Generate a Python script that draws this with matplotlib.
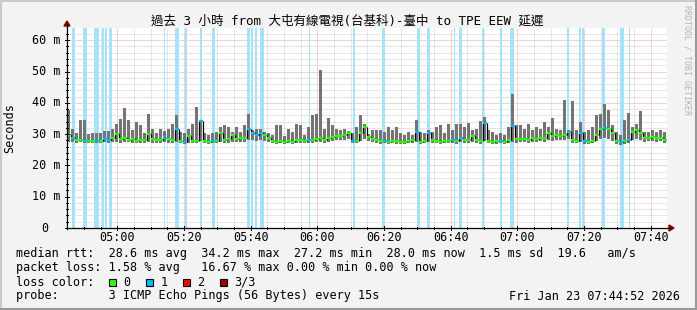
import matplotlib
matplotlib.use("Agg")
import matplotlib.pyplot as plt
from matplotlib.lines import Line2D
from matplotlib.patches import Polygon, Rectangle
from datetime import datetime, timedelta

W, H = 697, 310

# start of the 3 hour window, each sample is 72 s (1.2 min)
start = datetime(2026, 1, 23, 4, 44, 52)
step_min = 1.2

median_ms = [29.8, 28.6, 28.0, 28.2, 27.8, 27.9, 27.7, 27.8, 27.8, 28.4, 28.0, 28.6, 30.0, 28.4, 28.9, 28.1, 28.3, 27.9, 28.2, 28.0, 30.0, 28.5, 28.1, 28.0, 28.6,
             28.3, 28.0, 31.5, 27.7, 27.6, 29.5, 27.8, 27.9, 34.2, 27.7, 27.6, 27.8, 27.9, 30.2, 28.1, 28.3, 29.8, 28.4, 28.6, 28.9, 31.5, 30.2, 29.8, 30.4, 29.6,
             28.7, 27.8, 27.6, 27.9, 27.5, 27.7, 27.6, 28.0, 28.2, 27.8, 28.1, 28.0, 28.4, 28.6, 28.2, 28.8, 29.0, 29.4, 29.3, 29.8, 30.3, 27.9, 27.8, 30.5, 32.2,
             29.0, 28.3, 28.0, 27.7, 27.8, 27.5, 27.9, 27.7, 27.6, 27.5, 27.8, 28.1, 30.8, 27.6, 27.8, 30.3, 28.0, 27.8, 27.6, 27.9, 27.8, 28.0, 27.7, 28.8, 28.2,
             28.0, 29.5, 28.1, 27.8, 33.5, 27.8, 27.6, 27.7, 27.9, 27.5, 28.0, 32.5, 28.3, 28.5, 28.4, 28.2, 28.6, 28.4, 28.8, 28.7, 30.5, 29.3, 29.6, 29.4, 29.8,
             30.8, 28.0, 27.8, 30.5, 27.8, 27.6, 27.9, 29.8, 31.5, 32.0, 31.6, 30.2, 27.7, 27.5, 27.8, 28.2, 30.8, 31.2, 30.5, 28.8, 28.9, 29.0, 28.7, 28.9, 28.0]

min_ms = [27.6, 27.5, 27.3, 27.4, 27.2, 27.1, 27.0, 27.1, 27.2, 27.4, 27.3, 27.5, 27.6, 27.3, 27.5, 27.4, 27.2, 27.1, 27.3, 27.2, 27.4, 27.3, 27.2, 27.1, 27.4,
          27.3, 27.2, 27.6, 27.0, 26.9, 27.3, 27.1, 27.2, 27.8, 27.0, 26.9, 27.0, 27.1, 27.5, 27.2, 27.3, 27.6, 27.4, 27.5, 27.6, 28.2, 28.0, 27.9, 28.1, 27.8,
          27.5, 27.1, 26.9, 27.1, 26.8, 27.0, 26.9, 27.2, 27.3, 27.0, 27.2, 27.1, 27.4, 27.5, 27.3, 27.6, 27.8, 28.0, 28.0, 28.2, 28.4, 27.1, 27.0, 27.8, 28.5,
          27.8, 27.4, 27.2, 26.9, 27.0, 26.8, 27.1, 26.9, 26.8, 26.7, 27.0, 27.2, 27.6, 26.8, 27.0, 27.5, 27.1, 27.0, 26.8, 27.1, 27.0, 27.2, 26.9, 27.5, 27.3,
          27.1, 27.4, 27.2, 26.9, 27.7, 27.0, 26.8, 26.9, 27.1, 26.7, 27.1, 27.5, 27.3, 27.5, 27.4, 27.2, 27.6, 27.4, 27.7, 27.6, 28.0, 27.9, 28.1, 28.0, 28.2,
          28.3, 27.2, 27.0, 27.5, 26.9, 26.8, 27.1, 27.8, 28.5, 28.7, 28.4, 27.9, 26.8, 26.6, 26.9, 27.2, 28.0, 28.4, 28.1, 27.6, 27.7, 27.8, 27.5, 27.7, 27.2]

max_ms = [37.6, 31.5, 30.5, 34.4, 34.5, 30.0, 30.2, 30.3, 30.5, 31.0, 31.0, 31.7, 33.3, 34.7, 38.3, 34.4, 31.3, 33.9, 32.8, 30.5, 36.5, 31.7, 30.5, 31.7, 31.0,
          31.5, 33.3, 36.0, 30.8, 30.3, 31.7, 33.3, 38.5, 34.6, 30.3, 29.6, 30.3, 30.8, 32.3, 32.8, 32.3, 30.8, 32.3, 30.8, 32.8, 36.5, 31.3, 31.7, 31.7, 30.8,
          30.3, 29.8, 33.0, 32.8, 29.3, 31.7, 30.8, 33.3, 32.8, 29.8, 32.3, 36.0, 36.5, 50.5, 31.7, 35.0, 32.8, 31.7, 31.3, 31.7, 31.0, 30.3, 32.3, 36.0, 33.3,
          29.9, 31.3, 31.3, 31.3, 30.8, 32.3, 31.3, 32.3, 30.3, 29.6, 30.8, 29.8, 34.4, 30.8, 30.3, 31.3, 30.8, 32.3, 32.8, 30.3, 33.3, 31.3, 33.3, 33.3, 32.3,
          33.5, 31.3, 31.7, 34.1, 35.5, 31.3, 30.6, 29.8, 30.3, 29.6, 32.3, 42.8, 32.8, 32.8, 31.7, 33.3, 31.3, 32.3, 31.7, 33.9, 32.3, 35.0, 31.7, 31.3, 40.8,
          31.3, 40.7, 31.3, 33.9, 30.8, 31.3, 32.3, 36.0, 36.5, 39.5, 37.7, 32.8, 30.6, 29.8, 34.4, 36.7, 32.3, 33.3, 37.3, 30.8, 30.6, 31.3, 30.8, 31.3, 30.8]

# periods with 1/3 loss, minutes from start
loss_start = [1.5, 4.8, 8.1, 10.5, 11.4, 12.6, 29.1, 32.4, 35.4, 39.9, 43.5, 54.0, 55.2, 56.4, 57.9, 72.6,
              85.8, 94.5, 105.0, 108.0, 116.1, 117.6, 124.5, 129.9, 132.9, 150.0, 153.6, 154.5, 160.5, 165.9, 168.6]
loss_end = [2.4, 6.0, 9.6, 11.1, 12.0, 13.5, 29.4, 33.6, 36.0, 40.5, 44.4, 54.9, 55.8, 57.0, 59.1, 72.9,
            86.4, 95.4, 105.9, 108.9, 116.4, 118.5, 125.1, 130.5, 134.1, 150.6, 154.2, 155.1, 161.4, 167.1, 168.9]

ytick_vals = [0, 10, 20, 30, 40, 50, 60]
ytick_text = ["0", "10 m", "20 m", "30 m", "40 m", "50 m", "60 m"]

title = "過去 3 小時 from 大屯有線電視(台基科)-臺中 to TPE EEW 延遲"
line1 = "median rtt:  28.6 ms avg  34.2 ms max  27.2 ms min  28.0 ms now  1.5 ms sd  19.6   am/s"
line2 = "packet loss: 1.58 % avg   16.67 % max 0.00 % min 0.00 % now"
line4 = "probe:       3 ICMP Echo Pings (56 Bytes) every 15s"
stamp = "Fri Jan 23 07:44:52 2026"
legend_names = ["0", "1", "2", "3/3"]
legend_cols = ["#26ff00", "#00b8ff", "#ff0000", "#a00000"]

MONO = ["DejaVu Sans Mono", "Noto Sans CJK TC"]
FS = 8.5

fig = plt.figure(figsize=(W / 100, H / 100), dpi=100, facecolor="#f3f3f3")
ax = fig.add_axes([67 / W, 1 - 228 / H, 600 / W, 200 / H])
ax.set_facecolor("white")
ax.set_xlim(0, 180)
ax.set_ylim(0, 63.9)
for s in ax.spines.values():
    s.set_visible(False)
ax.set_xticks([])
ax.set_yticks([])


def fx(x):
    return x / W


def fy(y):
    return 1 - y / H


def minutes_of(dt):
    return (dt - start).total_seconds() / 60.0


# grid
dotted = (0, (1, 1))
t = datetime(2026, 1, 23, 4, 45)
vticks = []
while t <= start + timedelta(hours=3):
    m = minutes_of(t)
    major = t.minute % 20 == 0
    ax.axvline(m, color="#f2a4a4" if major else "#cfcfcf", lw=0.72, ls=dotted, zorder=1)
    vticks.append((m, major, t))
    t += timedelta(minutes=5)
for v in range(2, 64, 2):
    major = v % 10 == 0
    ax.axhline(v, color="#f2a4a4" if major else "#cfcfcf", lw=0.72, ls=dotted, zorder=1)

# loss background
for a, b in zip(loss_start, loss_end):
    ax.axvspan(a, b, color="#a6e2f9", lw=0, zorder=2)

# smoke
xs = [i * step_min for i in range(len(median_ms))]
ax.bar(xs, [hi - lo for hi, lo in zip(max_ms, min_ms)], bottom=min_ms, width=step_min * 0.75,
       align="edge", color="#747474", lw=0, zorder=3)

# median coloured by loss
lossy = set()
for a, b in zip(loss_start, loss_end):
    lossy.add(int(((a + b) / 2) // step_min))
for i, m in enumerate(median_ms):
    if i > 0:
        ax.plot([xs[i], xs[i]], [median_ms[i - 1], m], color="black", lw=0.9, zorder=4,
                solid_capstyle="butt")
    ax.plot([xs[i], xs[i] + step_min], [m, m], color=legend_cols[1] if i in lossy else legend_cols[0],
            lw=1.6, zorder=5, solid_capstyle="butt")

# axes lines and arrows
fig.add_artist(Line2D([fx(67), fx(67)], [fy(228.5), fy(24)], color="black", lw=0.9))
fig.add_artist(Line2D([fx(66.5), fx(670)], [fy(228), fy(228)], color="black", lw=0.9))
fig.add_artist(Polygon([[fx(64), fy(26)], [fx(70), fy(26)], [fx(67), fy(21)]], closed=True,
                       color="#800000", transform=fig.transFigure))
fig.add_artist(Polygon([[fx(669), fy(225)], [fx(669), fy(231)], [fx(674), fy(228)]], closed=True,
                       color="#800000", transform=fig.transFigure))

# ticks
for v in range(0, 64, 2):
    yp = 228 - v * 3.13
    ln = 2 if v % 10 == 0 else 1
    fig.add_artist(Line2D([fx(67 - ln), fx(67 + ln)], [fy(yp), fy(yp)], color="black", lw=0.7))
for m, major, tt in vticks:
    xp = 67 + m * 600 / 180
    ln = 2 if major else 1
    fig.add_artist(Line2D([fx(xp), fx(xp)], [fy(228 - ln), fy(228 + ln)], color="black", lw=0.7))
    if major:
        fig.text(fx(xp), fy(237.5), tt.strftime("%H:%M"), ha="center", va="center",
                 family=MONO, fontsize=FS)

for v, lab in zip(ytick_vals, ytick_text):
    yp = 228 - v * 3.13
    xr = 60 if v else 48
    fig.text(fx(xr), fy(yp), lab, ha="right", va="center", family=MONO, fontsize=FS)

# texts
fig.text(fx(347.5), fy(21), title, ha="center", va="center", family=MONO, fontsize=9)
fig.text(fx(10), fy(128), "Seconds", rotation=90, ha="center", va="center", family=MONO, fontsize=FS)
fig.text(fx(687), fy(5), "RRDTOOL / TOBI OETIKER", rotation=270, ha="center", va="top",
         family=MONO, fontsize=6, color="#b4b4b4")

fig.text(fx(16), fy(254), line1, ha="left", va="center", family=MONO, fontsize=FS)
fig.text(fx(16), fy(268), line2, ha="left", va="center", family=MONO, fontsize=FS)
fig.text(fx(16), fy(282), "loss color:", ha="left", va="center", family=MONO, fontsize=FS)
fig.text(fx(16), fy(296), line4, ha="left", va="center", family=MONO, fontsize=FS)
fig.text(fx(680), fy(296), stamp, ha="right", va="center", family=MONO, fontsize=FS)

box_x = [108.5, 145.5, 182.5, 219.5]
for bx, name, col in zip(box_x, legend_names, legend_cols):
    fig.add_artist(Rectangle((fx(bx), fy(286)), 7 / W, 7.5 / H, facecolor=col, edgecolor="black",
                             lw=0.8, transform=fig.transFigure))
    fig.text(fx(bx + 15), fy(282), name, ha="left", va="center", family=MONO, fontsize=FS)

# 3d frame
fig.add_artist(Line2D([0, 1], [fy(0.5), fy(0.5)], color="#cbcbcb", lw=1.5))
fig.add_artist(Line2D([fx(0.5), fx(0.5)], [0, 1], color="#cbcbcb", lw=1.5))
fig.add_artist(Line2D([0, 1], [fy(309), fy(309)], color="#999999", lw=1.5))
fig.add_artist(Line2D([fx(696), fx(696)], [0, 1], color="#999999", lw=1.5))

fig.savefig("out.png", dpi=100, facecolor=fig.get_facecolor())
